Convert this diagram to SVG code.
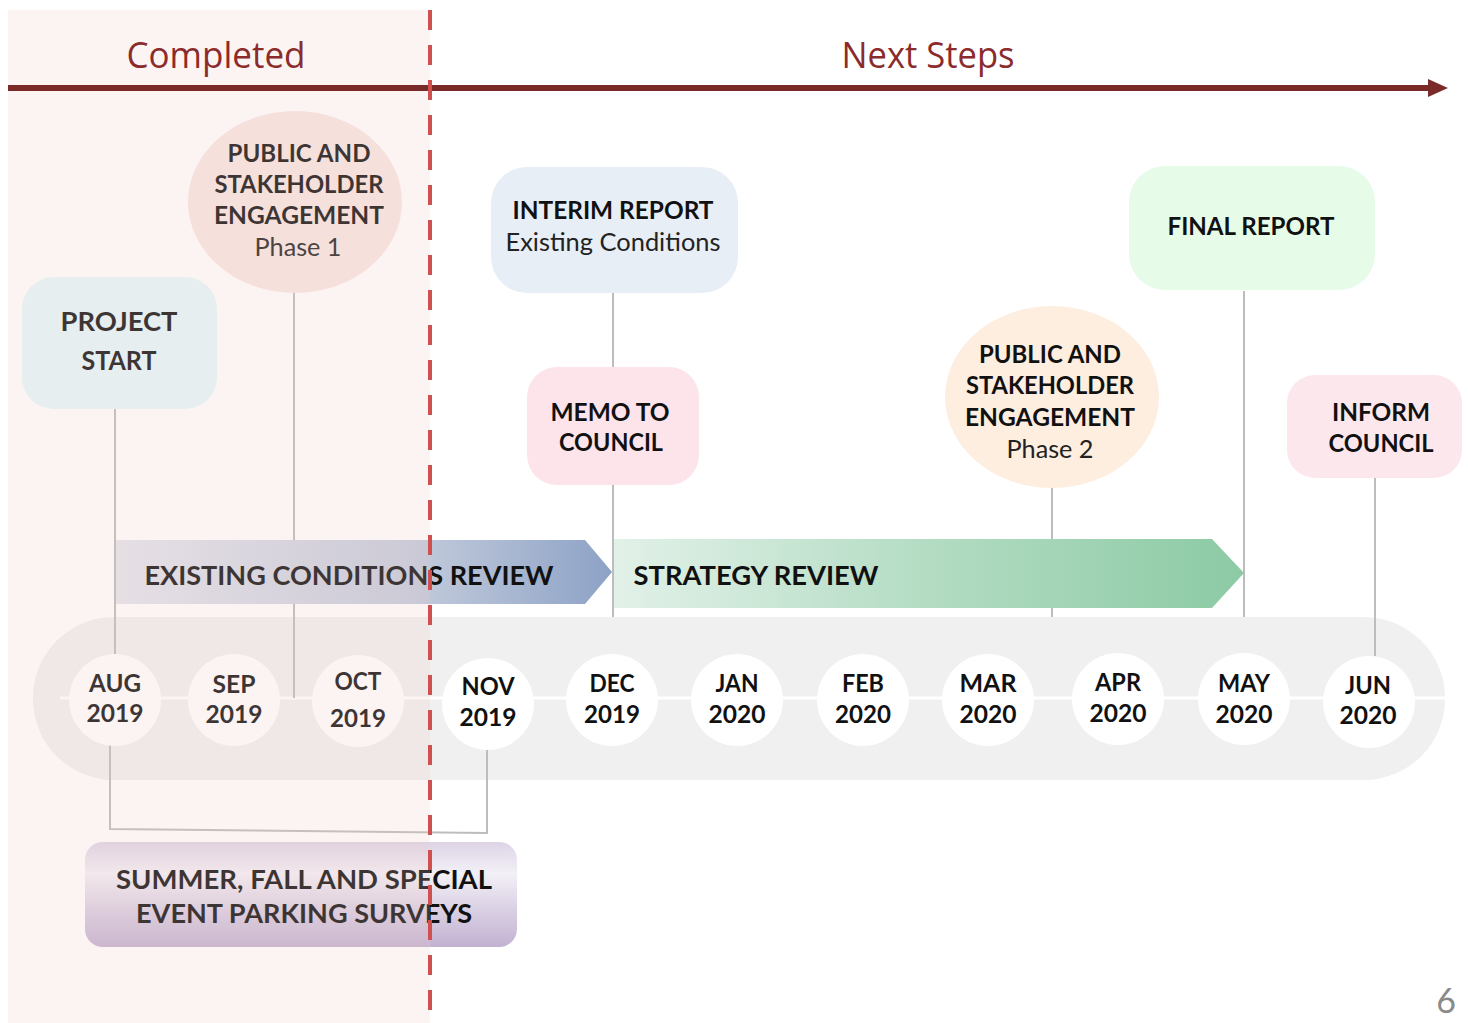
<svg xmlns="http://www.w3.org/2000/svg" width="1468" height="1023" viewBox="0 0 1468 1023">
<defs>
<linearGradient id="gExist" x1="0" y1="0" x2="1" y2="0">
<stop offset="0" stop-color="#e4e6ee"/><stop offset="0.6" stop-color="#c3cbdc"/><stop offset="1" stop-color="#8da2c6"/>
</linearGradient>
<linearGradient id="gStrat" x1="0" y1="0" x2="1" y2="0">
<stop offset="0" stop-color="#e2f1e8"/><stop offset="0.5" stop-color="#b3dcc3"/><stop offset="1" stop-color="#8ccaa4"/>
</linearGradient>
<linearGradient id="gSurvey" x1="0" y1="0" x2="0" y2="1">
<stop offset="0" stop-color="#ddd4e6"/><stop offset="0.3" stop-color="#f3f0f6"/><stop offset="0.6" stop-color="#ddd4e6"/><stop offset="1" stop-color="#c2b2d2"/>
</linearGradient>
<marker id="head" markerWidth="20" markerHeight="20" refX="2" refY="10" orient="auto" markerUnits="userSpaceOnUse">
<path d="M0,1 L20,10 L0,19 Z" fill="#7b2a2a"/>
</marker>
</defs>
<style>
.b{font-family:Lato,"Open Sans","Liberation Sans",sans-serif;font-weight:bold;fill:#111;text-anchor:middle}
.r{font-family:Lato,"Open Sans","Liberation Sans",sans-serif;font-weight:normal;fill:#222;text-anchor:middle}
.m{font-family:Lato,"Open Sans","Liberation Sans",sans-serif;font-weight:bold;fill:#111;text-anchor:middle;font-size:25px}
.t{font-family:"Open Sans",Lato,"Liberation Sans",sans-serif;fill:#8b2b2b;text-anchor:middle;font-size:36px}
.c{stroke:#bdbdbd;stroke-width:2;fill:none}
</style>
<rect width="1468" height="1023" fill="#ffffff"/>

<g id="timeline-band">
<rect x="33" y="617" width="1412" height="163" rx="81" fill="#f0f0f0"/>
<line x1="60" y1="698" x2="1445" y2="698" stroke="#ffffff" stroke-width="3"/>
</g>

<g id="connectors">
<line class="c" x1="115" y1="409" x2="115" y2="654"/>
<line class="c" x1="294" y1="292" x2="294" y2="698"/>
<line class="c" x1="613" y1="293" x2="613" y2="368"/>
<line class="c" x1="613" y1="485" x2="613" y2="617"/>
<line class="c" x1="1052" y1="488" x2="1052" y2="617"/>
<line class="c" x1="1244" y1="291" x2="1244" y2="617"/>
<line class="c" x1="1375" y1="478" x2="1375" y2="656"/>
<polyline class="c" points="110,745 110,829 487,833 487,749"/>
</g>

<g id="project-start">
<rect x="22" y="277" width="195" height="132" rx="32" fill="#e4f8fc"/>
<text class="b" x="119" y="331" font-size="27" textLength="117" lengthAdjust="spacingAndGlyphs">PROJECT</text>
<text class="b" x="119" y="370" font-size="27" textLength="75" lengthAdjust="spacingAndGlyphs">START</text>
</g>

<g id="engagement-1">
<ellipse cx="295" cy="202" rx="107" ry="91" fill="#f8e6e2"/>
<text class="b" x="299" y="162" font-size="25" textLength="143" lengthAdjust="spacingAndGlyphs">PUBLIC AND</text>
<text class="b" x="299" y="193" font-size="25" textLength="169" lengthAdjust="spacingAndGlyphs">STAKEHOLDER</text>
<text class="b" x="299" y="224" font-size="25" textLength="170" lengthAdjust="spacingAndGlyphs">ENGAGEMENT</text>
<text class="r" x="298" y="256" font-size="25" textLength="87" lengthAdjust="spacingAndGlyphs">Phase 1</text>
</g>

<g id="existing-conditions-review">
<polygon points="116,540 585,540 612,572 585,604 116,604" fill="url(#gExist)"/>
<text class="b" x="349" y="585" font-size="27" textLength="409" lengthAdjust="spacingAndGlyphs">EXISTING CONDITIONS REVIEW</text>
</g>

<g id="strategy-review">
<polygon points="614,539 1212,539 1244,573 1212,608 614,608" fill="url(#gStrat)"/>
<text class="b" x="756" y="585" font-size="27" textLength="245" lengthAdjust="spacingAndGlyphs">STRATEGY REVIEW</text>
</g>

<g id="interim-report">
<rect x="491" y="167" width="247" height="126" rx="36" fill="#e8eef6"/>
<text class="b" x="613" y="219" font-size="25" textLength="201" lengthAdjust="spacingAndGlyphs">INTERIM REPORT</text>
<text class="r" x="613" y="251" font-size="25" textLength="215" lengthAdjust="spacingAndGlyphs">Existing Conditions</text>
</g>

<g id="memo-to-council">
<rect x="527" y="367" width="172" height="118" rx="30" fill="#fce4ea"/>
<text class="b" x="610" y="421" font-size="25" textLength="119" lengthAdjust="spacingAndGlyphs">MEMO TO</text>
<text class="b" x="611" y="451" font-size="25" textLength="104" lengthAdjust="spacingAndGlyphs">COUNCIL</text>
</g>

<g id="engagement-2">
<ellipse cx="1052" cy="397" rx="107" ry="91" fill="#fdeee0"/>
<text class="b" x="1050" y="363" font-size="25" textLength="142" lengthAdjust="spacingAndGlyphs">PUBLIC AND</text>
<text class="b" x="1050" y="394" font-size="25" textLength="168" lengthAdjust="spacingAndGlyphs">STAKEHOLDER</text>
<text class="b" x="1050" y="426" font-size="25" textLength="170" lengthAdjust="spacingAndGlyphs">ENGAGEMENT</text>
<text class="r" x="1050" y="458" font-size="25" textLength="87" lengthAdjust="spacingAndGlyphs">Phase 2</text>
</g>

<g id="final-report">
<rect x="1129" y="166" width="246" height="124" rx="36" fill="#e6fbe8"/>
<text class="b" x="1251" y="235" font-size="25" textLength="167" lengthAdjust="spacingAndGlyphs">FINAL REPORT</text>
</g>

<g id="inform-council">
<rect x="1287" y="375" width="175" height="103" rx="28" fill="#fce8ec"/>
<text class="b" x="1381" y="421" font-size="25" textLength="98" lengthAdjust="spacingAndGlyphs">INFORM</text>
<text class="b" x="1381" y="452" font-size="25" textLength="105" lengthAdjust="spacingAndGlyphs">COUNCIL</text>
</g>

<g id="months">
<g id="m-aug"><circle cx="115" cy="700" r="46" fill="#fff"/><text class="m" x="115" y="692" textLength="52" lengthAdjust="spacingAndGlyphs">AUG</text><text class="m" x="115" y="722" textLength="57" lengthAdjust="spacingAndGlyphs">2019</text></g>
<g id="m-sep"><circle cx="234" cy="700" r="46" fill="#fff"/><text class="m" x="234" y="693" textLength="43" lengthAdjust="spacingAndGlyphs">SEP</text><text class="m" x="234" y="723" textLength="57" lengthAdjust="spacingAndGlyphs">2019</text></g>
<g id="m-oct"><circle cx="358" cy="701" r="46" fill="#fff"/><text class="m" x="358" y="690" textLength="47" lengthAdjust="spacingAndGlyphs">OCT</text><text class="m" x="358" y="727" textLength="56" lengthAdjust="spacingAndGlyphs">2019</text></g>
<g id="m-nov"><circle cx="488" cy="704" r="46" fill="#fff"/><text class="m" x="488" y="695" textLength="53" lengthAdjust="spacingAndGlyphs">NOV</text><text class="m" x="488" y="726" textLength="57" lengthAdjust="spacingAndGlyphs">2019</text></g>
<g id="m-dec"><circle cx="612" cy="700" r="46" fill="#fff"/><text class="m" x="612" y="692" textLength="45" lengthAdjust="spacingAndGlyphs">DEC</text><text class="m" x="612" y="723" textLength="56" lengthAdjust="spacingAndGlyphs">2019</text></g>
<g id="m-jan"><circle cx="737" cy="700" r="46" fill="#fff"/><text class="m" x="737" y="692" textLength="43" lengthAdjust="spacingAndGlyphs">JAN</text><text class="m" x="737" y="723" textLength="57" lengthAdjust="spacingAndGlyphs">2020</text></g>
<g id="m-feb"><circle cx="863" cy="700" r="46" fill="#fff"/><text class="m" x="863" y="692" textLength="42" lengthAdjust="spacingAndGlyphs">FEB</text><text class="m" x="863" y="723" textLength="56" lengthAdjust="spacingAndGlyphs">2020</text></g>
<g id="m-mar"><circle cx="988" cy="700" r="46" fill="#fff"/><text class="m" x="988" y="692" textLength="57" lengthAdjust="spacingAndGlyphs">MAR</text><text class="m" x="988" y="723" textLength="57" lengthAdjust="spacingAndGlyphs">2020</text></g>
<g id="m-apr"><circle cx="1118" cy="699" r="46" fill="#fff"/><text class="m" x="1118" y="691" textLength="46" lengthAdjust="spacingAndGlyphs">APR</text><text class="m" x="1118" y="722" textLength="57" lengthAdjust="spacingAndGlyphs">2020</text></g>
<g id="m-may"><circle cx="1244" cy="699" r="46" fill="#fff"/><text class="m" x="1244" y="692" textLength="52" lengthAdjust="spacingAndGlyphs">MAY</text><text class="m" x="1244" y="723" textLength="57" lengthAdjust="spacingAndGlyphs">2020</text></g>
<g id="m-jun"><circle cx="1369" cy="702" r="46" fill="#fff"/><text class="m" x="1368" y="694" textLength="46" lengthAdjust="spacingAndGlyphs">JUN</text><text class="m" x="1368" y="724" textLength="57" lengthAdjust="spacingAndGlyphs">2020</text></g>
</g>

<g id="parking-surveys">
<rect x="85" y="842" width="432" height="105" rx="18" fill="url(#gSurvey)"/>
<text class="b" x="304" y="889" font-size="27" fill="#222" textLength="376" lengthAdjust="spacingAndGlyphs">SUMMER, FALL AND SPECIAL</text>
<text class="b" x="304" y="923" font-size="27" textLength="336" lengthAdjust="spacingAndGlyphs">EVENT PARKING SURVEYS</text>
</g>

<rect id="completed-overlay" x="8" y="10" width="422" height="1013" fill="#f2c8c3" opacity="0.2"/>

<g id="header">
<text class="t" x="216" y="68" textLength="179" lengthAdjust="spacingAndGlyphs">Completed</text>
<text class="t" x="928" y="68" textLength="173" lengthAdjust="spacingAndGlyphs">Next Steps</text>
<line x1="8" y1="88" x2="1430" y2="88" stroke="#7b2a2a" stroke-width="6" marker-end="url(#head)"/>
</g>

<line id="divider" x1="430" y1="10" x2="430" y2="1023" stroke="#d05050" stroke-width="4" stroke-dasharray="20,15"/>

<text id="page" x="1446" y="1013" font-family="Lato,'Open Sans',sans-serif" font-size="34" fill="#8a8a8a" text-anchor="middle">6</text>
</svg>
